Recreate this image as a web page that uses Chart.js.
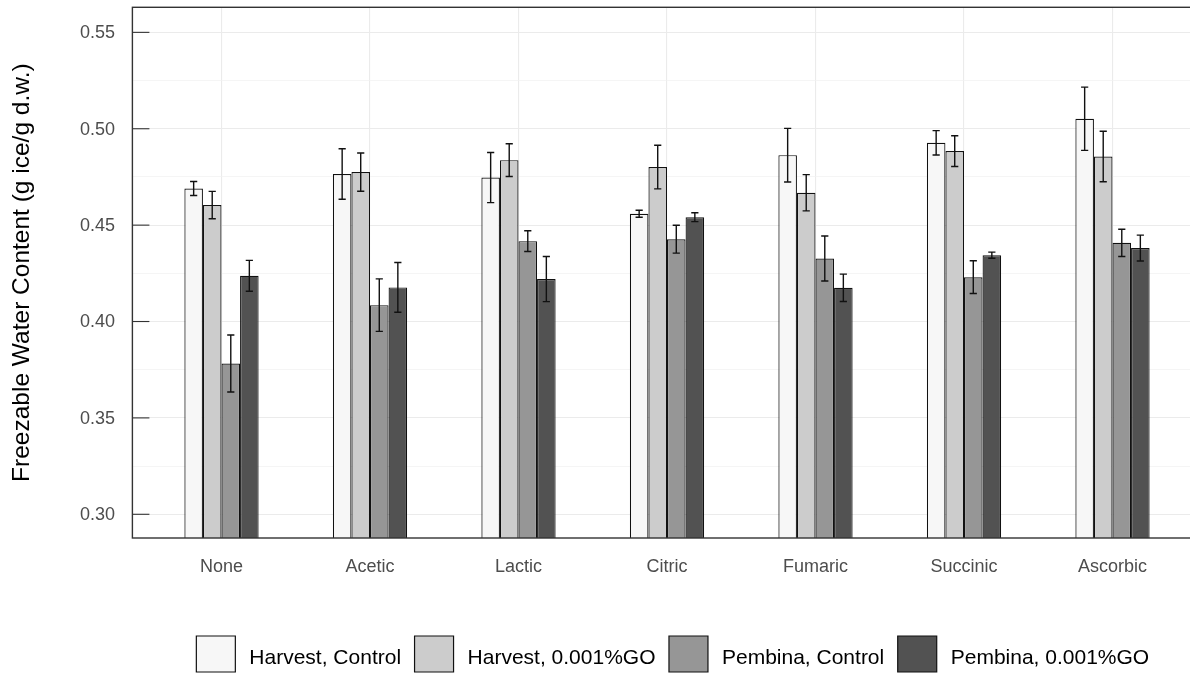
<!DOCTYPE html>
<html>
<head>
<meta charset="utf-8">
<script src="https://cdn.jsdelivr.net/npm/chart.js@4/dist/chart.umd.min.js"></script>
<style>
  html, body { margin: 0; padding: 0; background: #ffffff; overflow: hidden; }
  #wrap { position: absolute; left: 0; top: 0; width: 1210px; height: 682px; }
</style>
</head>
<body>
<div id="wrap"><canvas id="chart" width="1210" height="682"></canvas></div>
<script>
// Acid treatments on the x axis
const categories = ['None', 'Acetic', 'Lactic', 'Citric', 'Fumaric', 'Succinic', 'Ascorbic'];

// Series names and fills
const seriesNames = ['Harvest, Control', 'Harvest, 0.001%GO', 'Pembina, Control', 'Pembina, 0.001%GO'];
const seriesColors = ['#f7f7f7', '#cccccc', '#969696', '#525252'];

// Mean freezable water content (g ice / g d.w.)
const harvestControl = [0.4690, 0.4765, 0.4747, 0.4559, 0.4863, 0.4927, 0.5052];
const harvestGO      = [0.4604, 0.4775, 0.4837, 0.4801, 0.4668, 0.4884, 0.4856];
const pembinaControl = [0.3782, 0.4085, 0.4417, 0.4427, 0.4327, 0.4230, 0.4408];
const pembinaGO      = [0.4237, 0.4177, 0.4220, 0.4541, 0.4175, 0.4344, 0.4381];

// Error bar half-widths
const harvestControlErr = [0.0036, 0.0131, 0.0130, 0.0018, 0.0139, 0.0063, 0.0164];
const harvestGOErr      = [0.0071, 0.0099, 0.0085, 0.0113, 0.0094, 0.0080, 0.0131];
const pembinaControlErr = [0.0148, 0.0136, 0.0054, 0.0072, 0.0117, 0.0085, 0.0071];
const pembinaGOErr      = [0.0080, 0.0129, 0.0117, 0.0023, 0.0071, 0.0016, 0.0067];

// Labelled y ticks
const yTicks = [0.30, 0.35, 0.40, 0.45, 0.50, 0.55];

const seriesValues = [harvestControl, harvestGO, pembinaControl, pembinaGO];
const seriesErrors = [harvestControlErr, harvestGOErr, pembinaControlErr, pembinaGOErr];

const FONT = '"Liberation Sans", Arial, sans-serif';
const LEGEND_FONT_SIZE = 21;
const LEGEND_BOX_W = 39;
const isMajor = v => yTicks.some(t => Math.abs(t - v) < 1e-6);

// Panel frame, inward y tick marks, error bars and legend text
const decorations = {
  id: 'decorations',
  afterLayout(chart) {
    const lg = chart.legend;
    if (!lg) return;
    const d = 671 - (lg.left + lg.right) / 2;
    lg.left += d;
    lg.right += d;
  },
  afterDatasetsDraw(chart) {
    const ctx = chart.ctx;
    const area = chart.chartArea;
    const ys = chart.scales.y;
    ctx.save();

    // error bars
    ctx.strokeStyle = '#111111';
    ctx.lineWidth = 1.4;
    seriesValues.forEach((vals, d) => {
      const meta = chart.getDatasetMeta(d);
      meta.data.forEach((bar, i) => {
        const x = bar.x;
        const yHi = ys.getPixelForValue(vals[i] + seriesErrors[d][i]);
        const yLo = ys.getPixelForValue(vals[i] - seriesErrors[d][i]);
        ctx.beginPath();
        ctx.moveTo(x, yHi); ctx.lineTo(x, yLo);
        ctx.moveTo(x - 3.6, yHi); ctx.lineTo(x + 3.6, yHi);
        ctx.moveTo(x - 3.6, yLo); ctx.lineTo(x + 3.6, yLo);
        ctx.stroke();
      });
    });

    // inward tick marks on the y axis
    ctx.strokeStyle = '#333333';
    ctx.lineWidth = 1.1;
    yTicks.forEach(v => {
      const y = ys.getPixelForValue(v);
      ctx.beginPath();
      ctx.moveTo(area.left, y);
      ctx.lineTo(area.left + 17, y);
      ctx.stroke();
    });

    // panel border
    ctx.strokeStyle = '#333333';
    ctx.lineWidth = 1.4;
    ctx.strokeRect(area.left, area.top, area.right - area.left, area.bottom - area.top);
    ctx.restore();
  },
  afterDraw(chart) {
    // legend labels, set slightly below the key centre
    const lg = chart.legend;
    if (!lg || !lg.legendHitBoxes) return;
    const ctx = chart.ctx;
    ctx.save();
    ctx.fillStyle = '#000000';
    ctx.font = LEGEND_FONT_SIZE + 'px ' + FONT;
    ctx.textAlign = 'left';
    ctx.textBaseline = 'middle';
    lg.legendItems.forEach((item, i) => {
      const hb = lg.legendHitBoxes[i];
      ctx.fillText(item.text, hb.left + LEGEND_BOX_W + 14, hb.top + hb.height / 2 + 4.5);
    });
    ctx.restore();
  }
};

const datasets = seriesNames.map((name, d) => ({
  label: name,
  data: seriesValues[d].map((v, i) => ({ x: i, y: v })),
  backgroundColor: seriesColors[d],
  borderColor: '#111111',
  borderWidth: 1.2,
  categoryPercentage: 0.5,
  barPercentage: 1.0
}));

new Chart(document.getElementById('chart'), {
  type: 'bar',
  data: { datasets },
  plugins: [decorations],
  options: {
    responsive: false,
    animation: false,
    devicePixelRatio: 1,
    layout: { padding: { left: 0, top: 7.3, right: 8.4, bottom: 0 } },
    plugins: {
      tooltip: { enabled: false },
      legend: {
        position: 'bottom',
        labels: {
          boxWidth: LEGEND_BOX_W,
          boxHeight: 36,
          padding: 17,
          color: 'rgba(0,0,0,0)',
          font: { family: FONT, size: LEGEND_FONT_SIZE }
        }
      }
    },
    scales: {
      x: {
        type: 'linear',
        min: -0.6,
        max: 6.6,
        offset: false,
        afterBuildTicks: s => { s.ticks = s.ticks.filter(t => Number.isInteger(t.value)); },
        afterFit: s => { s.height = 81; s.paddingLeft = 0; s.paddingRight = 0; },
        grid: { offset: false, color: '#ebebeb', lineWidth: 1.1, drawTicks: false },
        border: { display: false },
        ticks: {
          stepSize: 1,
          autoSkip: false,
          maxRotation: 0,
          padding: 18,
          color: '#4d4d4d',
          font: { family: FONT, size: 18 },
          callback: v => (categories[v] !== undefined ? categories[v] : '')
        }
      },
      y: {
        min: 0.2877,
        max: 0.563,
        beginAtZero: false,
        afterBuildTicks: s => {
          s.ticks = s.ticks.filter(t => Math.abs(Math.round(t.value / 0.025) * 0.025 - t.value) < 1e-6);
        },
        afterFit: s => { s.width = 132.4; s.paddingTop = 0; s.paddingBottom = 0; },
        grid: {
          drawTicks: false,
          color: ctx => (isMajor(ctx.tick.value) ? '#ebebeb' : '#f0f0f0'),
          lineWidth: ctx => (isMajor(ctx.tick.value) ? 1.1 : 0.7)
        },
        border: { display: false },
        ticks: {
          stepSize: 0.025,
          padding: 17.4,
          labelOffset: 1,
          color: '#4d4d4d',
          font: { family: FONT, size: 18 },
          callback: v => (isMajor(v) ? v.toFixed(2) : '')
        },
        title: {
          display: true,
          text: 'Freezable Water Content (g ice/g d.w.)',
          color: '#000000',
          font: { family: FONT, size: 24.5 },
          padding: { top: 8, bottom: 0 }
        }
      }
    }
  }
});
</script>
</body>
</html>
